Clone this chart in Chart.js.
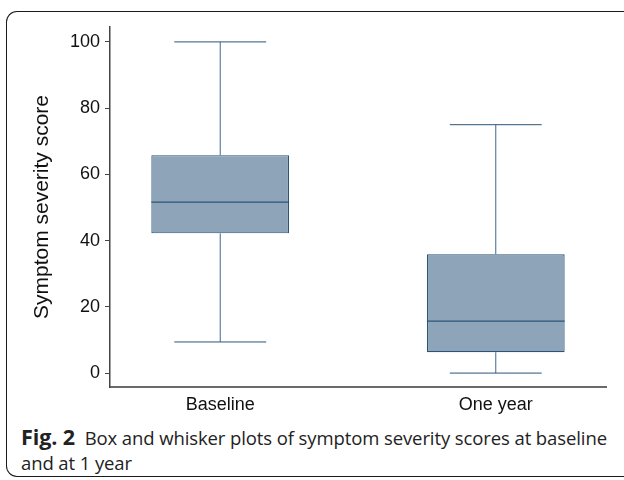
<!DOCTYPE html>
<html>
<head>
<meta charset="utf-8">
<script src="https://cdn.jsdelivr.net/npm/chart.js@4"></script>
<style>
  html, body { margin: 0; padding: 0; background: #fff; }
  #wrap { position: relative; width: 624px; height: 480px; overflow: hidden; background: #fff; }
  #frame { position: absolute; left: 6px; top: 11px; width: 700px; height: 466px;
           border: 1.5px solid #1a1a1a; border-right: none; border-radius: 11px 0 0 11px; box-sizing: border-box; }
  #cv { position: absolute; left: 0; top: 0; }
  #caption { position: absolute; left: 21px; top: 424px; width: 600px;
             font-family: "Open Sans", sans-serif; font-size: 18.5px; line-height: 25px; color: #222; letter-spacing: -0.1px; }
  #caption b { font-weight: 700; font-size: 21.5px; margin-right: 5px; }
</style>
</head>
<body>
<div id="wrap">
  <div id="frame"></div>
  <canvas id="cv" width="624" height="420"></canvas>
  <div id="caption"><b>Fig. 2</b> Box and whisker plots of symptom severity scores at baseline and at 1 year</div>
</div>
<script>
// ---- data ----
const categories = ["Baseline", "One year"];
const positions = [1, 2];
const whiskerLow = [9.4, 0];
const q1 = [42.2, 6.3];
const medians = [51.6, 15.7];
const q3 = [65.8, 35.9];
const whiskerHigh = [100, 75];
const yTicks = [0, 20, 40, 60, 80, 100];

const BOX_HALF = 0.25;
const CAP_HALF = 0.1667;
const fillColor = "#8ea4b8";
const edgeColor = "#2b5478";
const whiskerColor = "#3f6890";

const whiskerPts = [];
const capPts = [];
const medianPts = [];
positions.forEach((p, i) => {
  whiskerPts.push({x: p, y: q3[i]}, {x: p, y: whiskerHigh[i]}, {x: p, y: null});
  whiskerPts.push({x: p, y: whiskerLow[i]}, {x: p, y: q1[i]}, {x: p, y: null});
  capPts.push({x: p - CAP_HALF, y: whiskerHigh[i]}, {x: p + CAP_HALF, y: whiskerHigh[i]}, {x: p, y: null});
  capPts.push({x: p - CAP_HALF, y: whiskerLow[i]}, {x: p + CAP_HALF, y: whiskerLow[i]}, {x: p, y: null});
  medianPts.push({x: p - BOX_HALF, y: medians[i]}, {x: p + BOX_HALF, y: medians[i]}, {x: p, y: null});
});

const lineBase = { type: "line", pointRadius: 0, borderWidth: 1, tension: 0, spanGaps: false, fill: false };

new Chart(document.getElementById("cv"), {
  data: {
    datasets: [
      Object.assign({}, lineBase, { data: whiskerPts, borderColor: whiskerColor, order: 3 }),
      { type: "bar", data: positions.map((p, i) => ({x: p, y: [q1[i], q3[i]]})),
        backgroundColor: fillColor, borderColor: edgeColor, borderWidth: 1.2, borderSkipped: false,
        barPercentage: 0.625, categoryPercentage: 0.8, order: 2 },
      Object.assign({}, lineBase, { data: capPts, borderColor: edgeColor, order: 1 }),
      Object.assign({}, lineBase, { data: medianPts, borderColor: edgeColor, borderWidth: 1.3, order: 0 })
    ]
  },
  options: {
    responsive: false,
    animation: false,
    devicePixelRatio: 1,
    layout: { padding: { top: 27, right: 18, left: 0, bottom: 0 } },
    plugins: { legend: { display: false }, tooltip: { enabled: false } },
    scales: {
      x: {
        type: "linear", min: 0.6, max: 2.4, offset: false,
        afterBuildTicks: s => { s.ticks = positions.map(v => ({ value: v })); },
        afterFit: s => { s.height = 33; },
        ticks: { callback: v => categories[positions.indexOf(v)] ?? "", color: "#111", padding: 7,
                 font: { family: "Liberation Sans, Arial, sans-serif", size: 18 }, maxRotation: 0, autoSkip: false },
        grid: { display: false, drawTicks: false, offset: false },
        border: { display: true, color: "#6a6a6a", width: 2 }
      },
      y: {
        min: -4.2, max: 104.5,
        afterBuildTicks: s => { s.ticks = yTicks.map(v => ({ value: v })); },
        afterFit: s => { s.width = 110; },
        ticks: { color: "#111", padding: 5, font: { family: "Liberation Sans, Arial, sans-serif", size: 18 } },
        grid: { drawOnChartArea: false, drawTicks: true, tickLength: 5, color: "#444", lineWidth: 1 },
        border: { display: true, color: "#444", width: 1.5 },
        title: { display: true, text: "Symptom severity score", color: "#111",
                 font: { family: "Liberation Sans, Arial, sans-serif", size: 21 }, padding: { top: 30, bottom: 0 } }
      }
    }
  }
});
</script>
</body>
</html>
